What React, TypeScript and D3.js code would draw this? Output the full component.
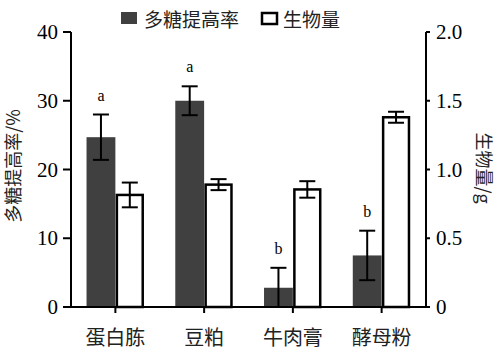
import React from 'react';
import * as d3 from 'd3';

const categories = ['蛋白胨', '豆粕', '牛肉膏', '酵母粉'];
const rateValues = [24.7, 30.0, 2.8, 7.5];
const rateErrors = [3.3, 2.1, 2.9, 3.6];
const rateLetters = ['a', 'a', 'b', 'b'];
const massValues = [0.815, 0.89, 0.855, 1.38];
const massErrors = [0.09, 0.04, 0.06, 0.04];
const leftTicks = [0, 10, 20, 30, 40];
const rightTicks = [0, 0.5, 1.0, 1.5, 2.0];
const seriesNames = ['多糖提高率', '生物量'];

const width = 500;
const height = 354;
const margin = { left: 71, right: 74, top: 32, bottom: 47 };
const darkFill = '#404040';
const numFont = '"Liberation Serif", "DejaVu Serif", serif';
const cjkFont = '"Noto Sans CJK SC", sans-serif';

export default function App() {
  const x0 = margin.left;
  const x1 = width - margin.right;
  const yBase = height - margin.bottom;

  const x = d3
    .scaleBand()
    .domain(categories)
    .range([x0, x1])
    .paddingInner(0.35)
    .paddingOuter(0.175);
  const inner = d3.scaleBand().domain(['rate', 'mass']).range([0, x.bandwidth()]);
  const yLeft = d3.scaleLinear().domain([0, 40]).range([yBase, margin.top]);
  const yRight = d3.scaleLinear().domain([0, 2]).range([yBase, margin.top]);
  const fmtRight = (d) => (d === 0 ? '0' : d3.format('.1f')(d));
  const cap = 8;

  return (
    <svg
      width={width}
      height={height}
      style={{ position: 'absolute', left: 0, top: 0, background: '#fff' }}
    >
      {/* legend */}
      <rect x={121} y={12} width={16} height={12} fill={darkFill} />
      <text x={144} y={27} fontFamily={cjkFont} fontSize={19} fill="#222">
        {seriesNames[0]}
      </text>
      <rect x={262} y={13} width={15} height={11} fill="#fff" stroke="#000" strokeWidth={2.5} />
      <text x={283} y={27} fontFamily={cjkFont} fontSize={19} fill="#222">
        {seriesNames[1]}
      </text>

      {/* bars */}
      {categories.map((c, i) => {
        const bx = x(c);
        const rTop = yLeft(rateValues[i]);
        const mTop = yRight(massValues[i]);
        const rx = bx + inner('rate');
        const mx = bx + inner('mass');
        const bw = inner.bandwidth();
        const rcx = rx + bw / 2;
        const mcx = mx + bw / 2;
        const rHi = yLeft(rateValues[i] + rateErrors[i]);
        const rLo = yLeft(Math.max(0, rateValues[i] - rateErrors[i]));
        const mHi = yRight(massValues[i] + massErrors[i]);
        const mLo = yRight(massValues[i] - massErrors[i]);
        const showLowCap = rateValues[i] - rateErrors[i] > 0;
        return (
          <g key={c}>
            <rect x={rx} y={rTop} width={bw} height={yBase - rTop} fill={darkFill} />
            <g stroke="#000" strokeWidth={2}>
              <line x1={rcx} x2={rcx} y1={rHi} y2={rLo} />
              <line x1={rcx - cap} x2={rcx + cap} y1={rHi} y2={rHi} />
              {showLowCap && <line x1={rcx - cap} x2={rcx + cap} y1={rLo} y2={rLo} />}
            </g>
            <text
              x={rcx}
              y={rHi - 14}
              textAnchor="middle"
              fontFamily={numFont}
              fontSize={16}
              fill="#000"
            >
              {rateLetters[i]}
            </text>
            <rect
              x={mx + 1.5}
              y={mTop}
              width={bw - 3}
              height={yBase - mTop}
              fill="#fff"
              stroke="#000"
              strokeWidth={2.5}
            />
            <g stroke="#000" strokeWidth={2}>
              <line x1={mcx} x2={mcx} y1={mHi} y2={mLo} />
              <line x1={mcx - cap} x2={mcx + cap} y1={mHi} y2={mHi} />
              <line x1={mcx - cap} x2={mcx + cap} y1={mLo} y2={mLo} />
            </g>
          </g>
        );
      })}

      {/* left axis */}
      <g stroke="#000" strokeWidth={2}>
        <line x1={x0} x2={x0} y1={margin.top} y2={yBase} />
        {leftTicks.map((t) => (
          <line key={t} x1={x0 - 8} x2={x0} y1={yLeft(t)} y2={yLeft(t)} />
        ))}
      </g>
      {leftTicks.map((t) => (
        <text
          key={t}
          x={x0 - 13}
          y={yLeft(t) + 7}
          textAnchor="end"
          fontFamily={numFont}
          fontSize={21}
          fill="#000"
        >
          {t}
        </text>
      ))}

      {/* right axis */}
      <g stroke="#000" strokeWidth={2}>
        <line x1={x1} x2={x1} y1={margin.top} y2={yBase} />
        {rightTicks.map((t) => (
          <line key={t} x1={x1} x2={x1 + 4} y1={yRight(t)} y2={yRight(t)} />
        ))}
      </g>
      {rightTicks.map((t) => (
        <text
          key={t}
          x={x1 + 10}
          y={yRight(t) + 7}
          fontFamily={numFont}
          fontSize={21}
          fill="#000"
        >
          {fmtRight(t)}
        </text>
      ))}

      {/* x axis */}
      <g stroke="#000" strokeWidth={2}>
        <line x1={x0 - 8} x2={x1 + 4} y1={yBase} y2={yBase} />
        {categories.map((c) => {
          const cx = x(c) + x.bandwidth() / 2;
          return <line key={c} x1={cx} x2={cx} y1={yBase} y2={yBase + 6} />;
        })}
      </g>
      {categories.map((c) => (
        <text
          key={c}
          x={x(c) + x.bandwidth() / 2}
          y={yBase + 38}
          textAnchor="middle"
          fontFamily={cjkFont}
          fontSize={20}
          fill="#222"
        >
          {c}
        </text>
      ))}

      {/* axis titles */}
      <text
        transform="translate(20, 166) rotate(-90)"
        textAnchor="middle"
        fontFamily={cjkFont}
        fontSize={18}
        fill="#222"
      >
        多糖提高率/%
      </text>
      <text
        transform="translate(477, 168) rotate(90)"
        textAnchor="middle"
        fontFamily={cjkFont}
        fontSize={18}
        fill="#222"
      >
        生物量/g
      </text>
    </svg>
  );
}
